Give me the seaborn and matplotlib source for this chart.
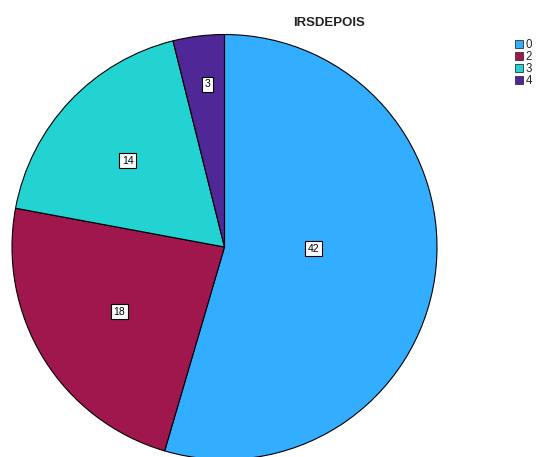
import numpy as np
import matplotlib
matplotlib.use("Agg")
import matplotlib.pyplot as plt
import matplotlib.patches as mpatches
import seaborn as sns

categories = ["0", "2", "3", "4"]
counts = [42, 18, 14, 3]
title = "IRSDEPOIS"
colors = ["#33adff", "#a0174e", "#22d3d1", "#4f2797"]

sns.set_theme(style="white")
plt.rcParams["font.family"] = ["Liberation Sans", "DejaVu Sans"]
palette = sns.color_palette(colors)

W, H = 540, 457
fig = plt.figure(figsize=(W / 100, H / 100), dpi=100)
ax = fig.add_axes([0, 0, 1, 1])

cx, cy, r = 224.5, H - 247, 212.5
wedges, _ = ax.pie(counts, colors=palette, startangle=90, counterclock=False,
                   center=(cx, cy), radius=r, frame=True,
                   wedgeprops=dict(edgecolor="black", linewidth=0.8))
ax.set_xlim(0, W)
ax.set_ylim(0, H)
ax.set_axis_off()

rad_frac = [0.42, 0.58, 0.61, 0.77]
ang_shift = [7.0, 0.0, 1.5, -1.0]
for w, v, rf, sh in zip(wedges, counts, rad_frac, ang_shift):
    a = np.deg2rad((w.theta1 + w.theta2) / 2 + sh)
    ax.text(cx + rf * r * np.cos(a), cy + rf * r * np.sin(a), str(v),
            ha="center", va="center", fontsize=7.5, color="black",
            bbox=dict(boxstyle="square,pad=0.25", fc="white", ec="black", lw=0.8))

fig.text(329 / W, 1 - 23 / H, title, ha="center", va="center",
         fontsize=9.5, fontweight="bold", color="#222222")

handles = [mpatches.Patch(facecolor=c, edgecolor="#333333", linewidth=0.6, label=l)
           for c, l in zip(palette, categories)]
leg = fig.legend(handles=handles, loc="upper left",
                 bbox_to_anchor=(515 / W, 1 - 39 / H), frameon=False,
                 fontsize=8.3, handlelength=0.7, handleheight=0.7,
                 handletextpad=0.2, labelspacing=0.0, borderaxespad=0,
                 borderpad=0)

fig.savefig("out.png", dpi=100, facecolor="white")
